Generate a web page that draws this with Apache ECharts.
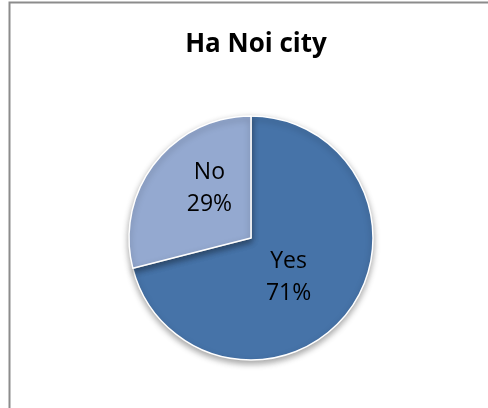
<!DOCTYPE html>
<html>
<head>
<meta charset="utf-8">
<script src="https://cdn.jsdelivr.net/npm/echarts@6/dist/echarts.min.js"></script>
<style>
html,body{margin:0;padding:0;background:#fff;}
#c{width:488px;height:408px;}
</style>
</head>
<body>
<div id="c"></div>
<script>
const titleText = "Ha Noi city";
const categories = ["Yes", "No"];
const values = [71, 29];
const colors = ["#4673A8", "#94A9D0"];
const labelOffsets = [[-13, 0], [9, -10]];

const chart = echarts.init(document.getElementById('c'), null, {renderer: 'canvas'});
chart.setOption({
  animation: false,
  backgroundColor: '#fff',
  graphic: [{
    type: 'rect',
    shape: {x: 9.5, y: 2.5, width: 500, height: 420},
    style: {fill: 'none', stroke: '#8c8c8c', lineWidth: 2},
    silent: true
  }],
  title: {
    text: titleText,
    left: 251,
    top: 27,
    textAlign: 'center',
    textStyle: {fontFamily: 'Open Sans', fontWeight: 'bold', fontSize: 26, color: '#000'}
  },
  series: [{
    type: 'pie',
    center: [251, 238],
    radius: 122,
    startAngle: 90,
    clockwise: true,
    data: categories.map((c, i) => ({
      name: c, value: values[i],
      itemStyle: {color: colors[i]},
      label: {offset: labelOffsets[i]}
    })),
    itemStyle: {
      borderColor: '#fff', borderWidth: 1.5,
      shadowColor: 'rgba(0,0,0,0.35)', shadowBlur: 6, shadowOffsetY: 3
    },
    label: {
      position: 'inside',
      formatter: p => p.name + '\n' + Math.round(p.percent) + '%',
      fontFamily: 'Open Sans', fontSize: 23, lineHeight: 32, color: '#000'
    },
    labelLine: {show: false},
    emphasis: {disabled: true}
  }]
});
</script>
</body>
</html>
